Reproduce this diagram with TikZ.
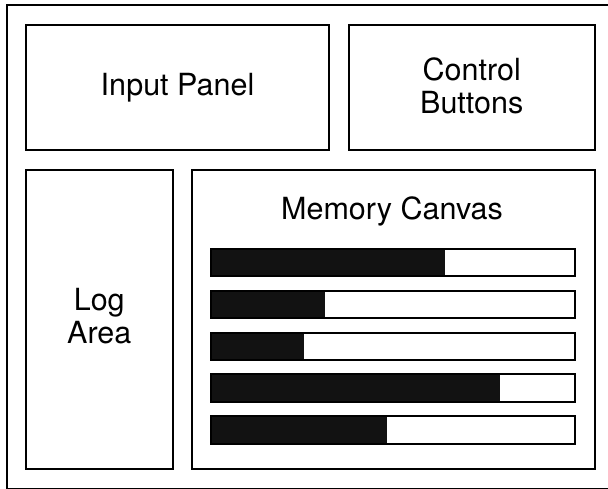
\documentclass[tikz,border=0pt]{standalone}
\usepackage{fontspec}
\setmainfont{TeX Gyre Heros}
\begin{document}
\begin{tikzpicture}[x=1pt,y=-1pt,
  frame/.style={draw=black, line width=2pt},
  panel/.style={frame, fill=white, anchor=north west, inner sep=0pt, outer sep=0pt},
  label/.style={align=center, font=\fontsize{30.5}{33}\selectfont, inner sep=0pt},
  barbox/.style={draw=black, line width=2pt, anchor=north west, inner sep=0pt, outer sep=0pt,
    minimum width=364pt, minimum height=27.5pt},
  barfill/.style={fill=black!93}]
  \useasboundingbox (0,0) rectangle (608,489);
  % outer window frame, running off the right and bottom edges
  \draw[frame] (6.5,5) rectangle (620,488.5);

  % top row
  \node[panel, minimum width=303pt, minimum height=125pt] (input) at (26,25) {};
  \node[label] (inputtxt) at (input.center) {Input Panel};
  \node[panel, minimum width=245.5pt, minimum height=125pt] (controls) at (349,25) {};
  \node[label] (controlstxt) at ([yshift=1.5pt]controls.center) {Control\\Buttons};

  % bottom row
  \node[panel, minimum width=146.5pt, minimum height=299pt] (log) at (26,170) {};
  \node[label] (logtxt) at ([yshift=3.5pt]log.center) {Log\\Area};
  \node[panel, minimum width=402.5pt, minimum height=299pt] (canvas) at (192,170) {};
  \node[label] (canvastxt) at (392,211) {Memory Canvas};

  % memory usage bars: fill length per bar
  \foreach \i/\fillx in {1/445, 2/325, 3/303.5, 4/500, 5/386.5} {
    \pgfmathsetmacro{\ytop}{249+41.75*(\i-1)}
    \fill[barfill] (211,\ytop) rectangle (\fillx,\ytop+27.5);
    \node[barbox] (bar\i) at (211,\ytop) {};
  }
\end{tikzpicture}
\end{document}
